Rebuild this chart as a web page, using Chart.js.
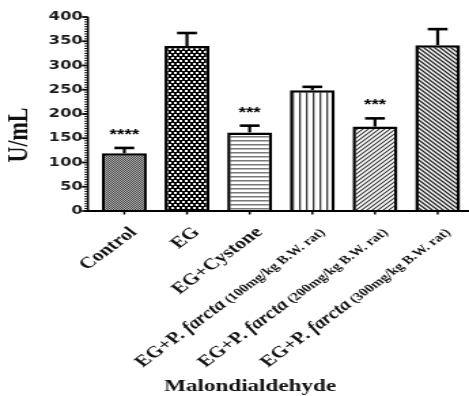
<!DOCTYPE html>
<html>
<head>
<meta charset="utf-8">
<script src="https://cdn.jsdelivr.net/npm/chart.js@4.4.0/dist/chart.umd.min.js"></script>
<style>
  html, body { margin: 0; padding: 0; background: #fff; overflow: hidden; }
  /* the source figure is stretched sideways, so draw narrow and widen it */
  #wrap { width: 345px; height: 396px; transform: scaleX(1.3594); transform-origin: 0 0; }
</style>
</head>
<body>
<div id="wrap"><canvas id="chart" width="345" height="396"></canvas></div>
<script>
const categories = ['Control', 'EG', 'EG+Cystone',
  'EG+P. farcta (100mg/kg B.W. rat)',
  'EG+P. farcta (200mg/kg B.W. rat)',
  'EG+P. farcta (300mg/kg B.W. rat)'];
const means = [119, 340, 162, 249, 174, 342];
const sem = [11, 27, 14, 7, 17, 33];
const stars = ['****', '', '***', '', '***', ''];
const yMin = 0, yMax = 400, yStep = 50, yMinorStep = 5;
const yTitle = 'U/mL';
const xTitle = 'Malondialdehyde';

const serif = '"Liberation Serif", "Times New Roman", serif';

function makePattern(w, h, draw) {
    const c = document.createElement('canvas');
    c.width = w; c.height = h;
    const g = c.getContext('2d');
    g.fillStyle = '#fff';
    g.fillRect(0, 0, w, h);
    draw(g, w, h);
    return g.createPattern(c, 'repeat');
}

const patterns = [
    // fine grey dots
    makePattern(2, 2, (g) => {
        g.fillStyle = '#b5b5b5'; g.fillRect(0, 0, 2, 2);
        g.fillStyle = '#444'; g.fillRect(0, 0, 1, 1); g.fillRect(1, 1, 1, 1);
    }),
    // black with white squares
    makePattern(4, 6, (g) => {
        g.fillStyle = '#000'; g.fillRect(0, 0, 4, 6);
        g.fillStyle = '#fff'; g.fillRect(0, 0, 2, 2); g.fillRect(2, 3, 2, 2);
    }),
    // horizontal lines
    makePattern(2, 4, (g) => {
        g.fillStyle = '#7a7a7a'; g.fillRect(0, 0, 2, 1.5);
    }),
    // vertical lines
    makePattern(5, 2, (g) => {
        g.fillStyle = '#3a3a3a'; g.fillRect(0, 0, 1.3, 2);
    }),
    // "/" hatching
    makePattern(4, 4, (g, w, h) => {
        g.strokeStyle = '#333'; g.lineWidth = 1.1;
        g.beginPath();
        g.moveTo(0, h); g.lineTo(w, 0);
        g.moveTo(-1, 1); g.lineTo(1, -1);
        g.moveTo(w - 1, h + 1); g.lineTo(w + 1, h - 1);
        g.stroke();
    }),
    // "\" hatching
    makePattern(4, 4, (g, w, h) => {
        g.strokeStyle = '#222'; g.lineWidth = 1.3;
        g.beginPath();
        g.moveTo(0, 0); g.lineTo(w, h);
        g.moveTo(-1, h - 1); g.lineTo(1, h + 1);
        g.moveTo(w - 1, -1); g.lineTo(w + 1, 1);
        g.stroke();
    })
];

// axes, error bars, stars and the custom labels
const decorations = {
    id: 'decorations',
    afterDatasetsDraw(chart) {
        const ctx = chart.ctx;
        const xs = chart.scales.x, ys = chart.scales.y;
        const area = chart.chartArea;
        const axisX = area.left - 3.7;
        ctx.save();
        ctx.strokeStyle = '#000';
        ctx.fillStyle = '#000';

        // error bars
        means.forEach((m, i) => {
            const x = xs.getPixelForValue(i);
            const yBar = ys.getPixelForValue(m);
            const yTop = ys.getPixelForValue(m + sem[i]);
            ctx.lineWidth = 2.2;
            ctx.beginPath(); ctx.moveTo(x, yBar); ctx.lineTo(x, yTop); ctx.stroke();
            ctx.lineWidth = 2.6;
            ctx.beginPath(); ctx.moveTo(x - 7.3, yTop); ctx.lineTo(x + 7.3, yTop); ctx.stroke();
            if (stars[i]) {
                ctx.font = 'bold 14px "Liberation Sans", Arial, sans-serif';
                ctx.textAlign = 'center';
                ctx.textBaseline = 'alphabetic';
                ctx.fillText(stars[i], x, yTop - 9);
            }
        });

        // y axis with major and minor ticks
        ctx.lineWidth = 1.5;
        ctx.beginPath();
        ctx.moveTo(axisX, ys.getPixelForValue(yMax));
        ctx.lineTo(axisX, ys.getPixelForValue(yMin));
        ctx.stroke();
        for (let v = yMin; v <= yMax; v += yMinorStep) {
            const y = ys.getPixelForValue(v);
            const major = v % yStep === 0;
            ctx.lineWidth = major ? 1.8 : 1;
            ctx.beginPath();
            ctx.moveTo(axisX - (major ? 4.4 : 2.6), y);
            ctx.lineTo(axisX, y);
            ctx.stroke();
        }

        // x axis with ticks
        const y0 = ys.getPixelForValue(yMin);
        ctx.lineWidth = 2;
        ctx.beginPath();
        ctx.moveTo(axisX - 1.6, y0);
        ctx.lineTo(chart.width, y0);
        ctx.stroke();
        ctx.lineWidth = 1.5;
        categories.forEach((c, i) => {
            const x = xs.getPixelForValue(i);
            ctx.beginPath(); ctx.moveTo(x, y0); ctx.lineTo(x, y0 + 3.5); ctx.stroke();
        });

        // rotated category labels (mixed fonts)
        ctx.fillStyle = '#111';
        ctx.textBaseline = 'alphabetic';
        ctx.textAlign = 'left';
        categories.forEach((c, i) => {
            const m = c.match(/^(EG\+P\. )(farcta)( .*)$/);
            const parts = m ? [
                { t: m[1], f: 'bold 16px ' + serif },
                { t: m[2], f: 'italic bold 16px ' + serif },
                { t: m[3], f: 'bold 11.5px ' + serif }
            ] : [{ t: c, f: 'bold 16px ' + serif }];
            let total = 0;
            parts.forEach(p => { ctx.font = p.f; p.w = ctx.measureText(p.t).width; total += p.w; });
            ctx.save();
            ctx.translate(xs.getPixelForValue(i) + 10, y0 + 22);
            ctx.rotate(-Math.PI / 4);
            let pos = -total;
            parts.forEach(p => { ctx.font = p.f; ctx.fillText(p.t, pos, 0); pos += p.w; });
            ctx.restore();
        });

        // axis titles
        ctx.font = 'bold 17px ' + serif;
        ctx.textAlign = 'center';
        ctx.fillText(xTitle, 184, 391);
        ctx.save();
        ctx.translate(14.7, 135);
        ctx.rotate(-Math.PI / 2);
        ctx.font = 'bold 22px ' + serif;
        ctx.textBaseline = 'middle';
        ctx.fillText(yTitle, 0, 0);
        ctx.restore();

        ctx.restore();
    }
};

new Chart(document.getElementById('chart'), {
    type: 'bar',
    data: {
        labels: categories,
        datasets: [{
            data: means,
            backgroundColor: patterns,
            borderColor: '#000',
            borderWidth: 2.5,
            categoryPercentage: 1,
            barPercentage: 0.716
        }]
    },
    options: {
        responsive: false,
        animation: false,
        devicePixelRatio: 1,
        layout: { padding: { left: 0, right: 0, top: 17, bottom: 185 } },
        plugins: { legend: { display: false }, tooltip: { enabled: false } },
        scales: {
            x: { display: false },
            y: {
                min: yMin,
                max: yMax,
                grid: { display: false, drawTicks: false },
                border: { display: false },
                afterFit: (s) => { s.width = 68.4; },
                ticks: {
                    stepSize: yStep,
                    padding: 7.5,
                    color: '#1a1a1a',
                    font: { family: '"DejaVu Sans", sans-serif', size: 12, weight: 'bold' }
                }
            }
        }
    },
    plugins: [decorations]
});
</script>
</body>
</html>
